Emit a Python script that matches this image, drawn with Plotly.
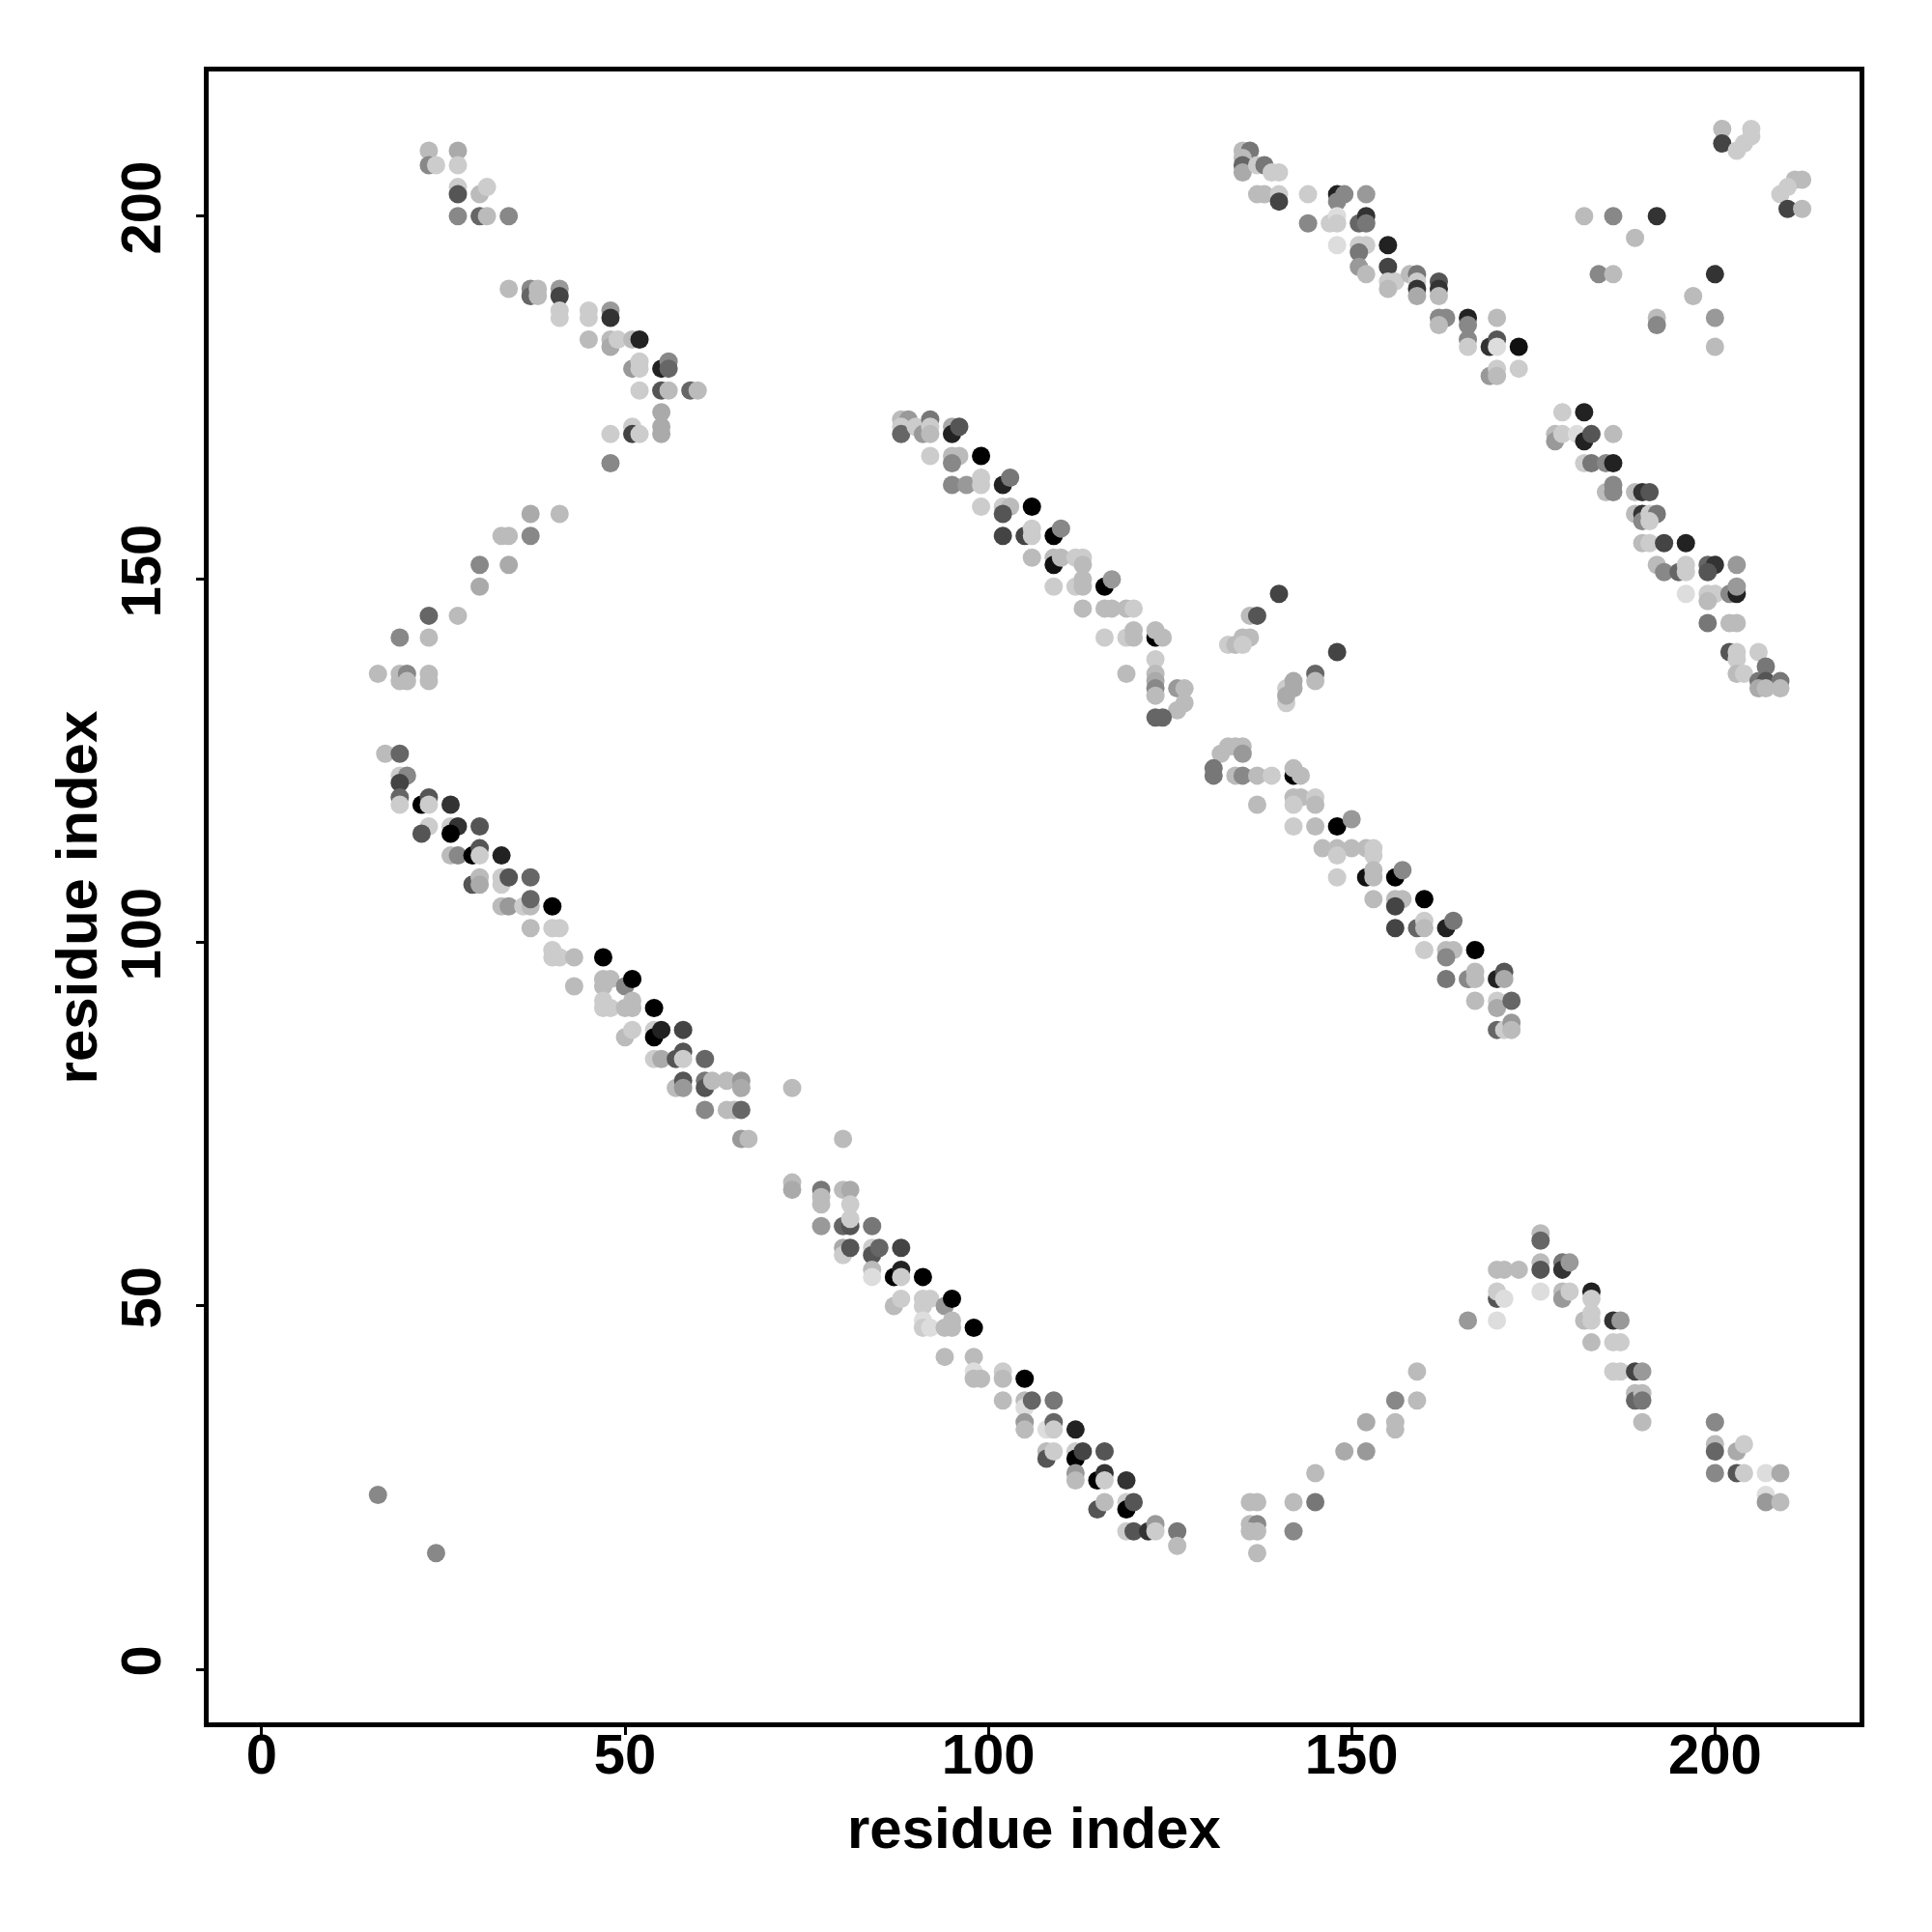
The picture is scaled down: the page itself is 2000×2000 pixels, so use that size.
import plotly.graph_objects as go

# (residue i, residue j, gray shade 0=black .. 255=white)
top_left_band = [
    (23,209,187),(27,209,170),(23,207,136),(24,207,204),(27,207,204),
    (27,204,204),(27,203,85),(30,203,187),(31,204,204),
    (27,200,136),(30,200,102),(31,200,187),(34,200,136),
    (34,190,187),(37,190,136),(37,189,102),(38,190,187),(38,189,187),(41,190,153),(41,189,68),
    (41,187,204),(41,186,204),(45,187,204),(45,186,204),(48,187,153),(48,186,51),
    (45,183,187),(48,183,187),(48,182,170),(49,183,204),(51,183,187),(52,183,34),
    (51,179,153),(52,180,204),(52,179,204),(55,179,34),(56,180,136),(56,179,102),
    (52,176,204),(55,176,85),(56,176,187),(59,176,102),(60,176,187),
    (55,173,170),(55,171,170),(55,170,170),(48,170,204),(51,171,204),(51,170,68),(52,170,204),
    (48,166,136),(37,159,170),(41,159,187),(33,156,187),(34,156,187),(37,156,136),
    (30,152,136),(34,152,170),(30,149,170),(23,145,102),(27,145,187),
    (19,142,136),(23,142,187),
    (16,137,187),(19,137,187),(19,136,187),(20,137,136),(20,136,187),(23,137,187),(23,136,187),
]

lower_left_band = [
    (17,126,187),(19,126,102),
    (19,123,204),(20,123,136),(19,122,68),(19,120,102),(19,119,204),
    (22,119,0),(23,120,85),(23,119,204),(26,119,51),
    (23,116,204),(22,115,85),(26,116,204),(27,116,51),(26,115,0),(30,116,85),
    (26,112,187),(27,112,136),(29,112,0),(30,113,85),(30,112,204),(33,112,34),
    (29,108,85),(30,109,187),(30,108,170),(33,109,204),(33,108,204),(34,109,85),(37,109,102),
    (33,105,187),(34,105,153),(36,105,204),(37,105,187),(37,106,102),(40,105,0),
    (37,102,187),(40,102,204),(41,102,204),
    (40,99,204),(40,98,204),(41,98,204),(43,98,187),(47,98,0),
    (43,94,187),(47,95,187),(47,94,187),(48,95,187),(50,94,136),(51,95,0),
    (47,92,204),(47,91,204),(48,91,204),(50,91,187),(51,91,187),(51,92,187),(54,91,0),
    (50,87,187),(51,88,204),(54,88,204),(54,87,0),(55,88,34),(58,88,68),
    (54,84,204),(55,84,170),(57,84,85),(58,85,85),(58,84,204),(61,84,102),
    (57,80,187),(58,81,85),(58,80,153),(61,81,119),(61,80,85),(62,81,187),(64,81,187),(66,81,153),(66,80,170),
    (61,77,136),(64,77,187),(65,77,187),(66,77,102),
    (66,73,153),(67,73,187),(73,80,187),(80,73,187),
]

lower_mid_band = [
    (73,67,187),(73,66,170),
    (77,66,119),(77,65,187),(77,64,187),(80,66,187),(81,66,170),(81,64,204),
    (77,61,153),(80,61,102),(81,61,85),(81,62,204),(84,61,119),
    (80,58,170),(80,57,204),(81,58,85),(84,58,204),(84,57,85),(85,58,102),(88,58,68),
    (84,55,187),(84,54,221),(87,54,0),(88,55,34),(88,54,204),(91,54,0),
    (87,50,187),(88,51,204),(91,51,204),(91,50,204),(92,51,204),(94,50,153),(95,51,0),
    (91,48,221),(91,47,204),(92,47,221),(94,47,187),(95,48,187),(95,47,187),(98,47,0),
    (94,43,187),(98,43,187),(98,41,221),(98,40,187),(99,40,187),(102,41,204),(102,40,187),(105,40,0),
    (102,37,187),(105,37,187),(105,36,221),(106,37,102),(109,37,119),
    (105,34,153),(105,33,187),(108,33,221),(109,34,102),(109,33,204),(112,33,34),
    (108,30,187),(108,29,85),(109,30,204),(112,30,204),(112,29,0),(113,30,68),(116,30,85),
    (112,27,153),(112,26,187),(115,26,0),(116,27,51),(116,26,204),(119,26,51),
    (115,22,85),(116,23,187),(119,23,204),(119,22,0),(120,23,85),
    (119,19,204),(120,19,85),(122,19,51),(123,20,153),(123,19,204),(126,19,119),(126,17,187),
]

lower_right_arc = [
    (136,23,187),(137,23,187),(136,20,187),(137,20,136),(136,19,187),(137,19,187),(137,16,187),
    (142,23,187),(142,19,136),(145,27,187),(145,23,119),
    (149,30,170),(152,30,153),(152,34,170),(156,34,187),(156,33,187),(156,37,136),(159,37,187),(159,41,187),
    (166,48,153),(170,48,221),(170,51,85),(170,52,204),(171,51,221),
    (170,55,187),(171,55,187),(173,55,187),
    (176,60,187),(176,59,102),(176,56,187),(176,55,85),(176,52,221),
    (179,56,119),(179,55,51),(180,56,153),(179,52,187),(179,51,153),(180,52,204),
    (183,52,34),(183,51,204),(182,48,187),(183,49,204),(183,48,204),(186,48,51),(187,48,153),
    (183,45,187),(186,45,204),(187,45,204),
    (186,41,204),(187,41,204),(189,41,68),(190,41,153),(189,38,187),(189,37,102),(190,38,187),(190,37,119),(190,34,187),
    (200,34,136),(200,31,187),(200,30,102),(203,30,170),(204,31,204),(200,27,136),(203,27,85),(204,27,204),
    (207,27,221),(209,27,170),(207,24,221),(207,23,153),(209,23,187),
    (16,24,136),(24,16,136),
]

middle_band = [
    (88,172,187),(89,172,153),(88,171,204),(88,170,102),(90,171,204),(91,170,153),(92,172,119),(92,171,204),
    (92,170,187),(95,171,170),(95,170,34),(96,171,85),
    (92,167,204),(95,167,187),(96,167,187),(95,166,136),(99,167,0),
    (95,163,136),(97,163,153),(99,164,204),(99,163,204),(102,163,34),(103,164,119),
    (99,160,204),(102,160,204),(103,160,187),(102,159,85),(106,160,0),
    (102,156,68),(105,156,68),(106,157,204),(106,156,204),(109,156,0),(110,157,136),
    (106,153,187),(109,153,187),(109,152,17),(110,153,187),(112,153,204),(113,153,204),(113,152,187),
    (109,149,204),(112,149,204),(113,150,187),(113,149,187),(116,149,0),(117,150,153),
    (113,146,187),(116,146,187),(117,146,187),(119,146,187),(120,146,204),
    (123,142,0),(116,142,204),(119,142,204),(120,143,187),(120,142,187),(123,143,187),(124,142,187),
    (119,137,187),(123,139,204),(123,137,187),(123,136,170),(123,135,136),(123,134,187),
    (126,135,153),(127,135,187),(127,133,187),(126,132,187),(123,131,102),(124,131,102),
]

middle_right_band = [
    (140,148,68),(136,145,187),(137,145,85),
    (133,141,204),(134,141,187),(135,142,187),(136,142,187),(135,141,204),
    (141,135,204),(141,133,204),(142,136,170),(142,135,170),(141,134,170),
    (148,140,68),(145,137,102),(145,136,187),
    (132,126,187),(133,127,187),(134,127,187),(135,127,187),(135,126,153),
    (142,123,0),(131,124,119),(131,123,119),(134,123,187),(135,123,136),(137,123,187),(139,123,204),
    (142,124,187),(143,123,187),
    (137,119,187),(142,120,187),(143,120,187),(142,119,204),(142,116,204),
    (145,120,204),(145,119,187),(145,116,187),(148,116,0),(150,117,153),
    (146,113,187),(148,113,187),(150,113,187),(152,113,187),(153,113,204),(148,112,204),(153,112,204),
    (148,109,204),(152,109,17),(153,110,187),(153,109,187),(156,109,0),(157,110,136),
    (153,106,187),(156,106,187),(157,106,187),(156,105,68),(160,106,0),
    (156,102,68),(159,102,102),(160,103,204),(160,102,187),(163,102,34),(164,103,119),
    (160,99,204),(163,99,187),(164,99,187),(163,98,136),(167,99,0),
    (163,95,119),(166,95,136),(167,96,187),(167,95,187),(170,95,34),(171,96,85),(171,95,170),
    (167,92,187),(170,92,204),(170,91,170),(172,92,102),
    (170,88,102),(171,88,204),(172,89,153),(172,88,187),
]

top_middle_band = [
    (135,209,187),(136,209,119),(135,208,187),(135,207,102),(135,206,170),(137,207,204),(138,207,119),
    (139,206,204),(140,206,204),
    (137,203,187),(138,203,187),(140,203,204),(140,202,68),(144,203,204),(144,199,136),
    (148,203,34),(149,203,136),(152,203,153),(148,202,136),
    (147,199,204),(148,200,221),(148,199,204),(151,199,102),(152,200,51),(152,199,119),
    (148,196,221),(151,196,204),(152,196,204),(155,196,34),(151,195,119),
    (151,193,153),(152,192,187),(155,193,68),(155,191,204),(156,191,204),(155,190,187),(158,192,187),
    (159,192,119),(159,191,204),(159,190,51),(159,189,170),(162,191,85),(162,190,51),(162,189,187),
    (162,186,136),(163,186,136),(162,185,187),(166,186,34),(166,185,136),(170,186,187),
    (166,183,136),(166,182,204),(169,182,51),(170,183,85),(170,182,221),(173,182,17),
    (169,178,153),(170,179,204),(170,178,187),(173,179,204),
]

top_right_scatter = [
    (201,212,187),(201,210,68),(203,209,204),(204,210,204),(205,212,204),(205,211,204),
    (211,205,187),(212,205,187),(209,203,204),(210,204,204),(210,201,68),(212,201,187),
    (182,200,187),(186,200,136),(192,200,51),(189,197,187),
    (184,192,136),(186,192,187),(200,192,51),(197,189,187),(192,186,187),(192,185,136),
    (200,186,153),(200,182,187),
]

right_band = [
    (179,173,204),(182,173,34),(178,170,187),(178,169,153),(179,170,204),(181,170,221),(182,169,34),
    (183,170,85),(186,170,187),
    (182,166,204),(183,166,119),(185,166,136),(186,166,34),
    (185,162,187),(186,163,136),(186,162,136),(189,162,187),(190,162,51),(191,162,85),
    (189,159,187),(190,159,51),(190,158,136),(191,159,204),(192,159,119),(191,158,204),
    (190,155,187),(191,155,204),(193,155,68),(196,155,34),
    (192,152,187),(193,151,136),(195,151,102),(196,152,204),(196,151,204),(199,152,102),(200,152,51),
    (199,151,85),(203,152,153),
    (196,148,221),(199,148,204),(200,148,204),(202,148,136),(203,148,34),(203,149,153),(199,147,187),
    (199,144,119),(202,144,187),(203,144,187),
    (202,140,85),(203,140,204),(203,139,204),(206,140,204),(203,137,187),(204,137,204),(207,138,119),
    (206,136,119),(207,136,85),(209,136,119),(209,135,187),(206,135,170),(207,135,187),
]

groups = [top_left_band, lower_left_band, lower_mid_band, lower_right_arc, middle_band,
          middle_right_band, top_middle_band, top_right_scatter, right_band]

res_i, res_j, shade = [], [], []
for g in groups:
    for a, b, s in g:
        res_i.append(a)
        res_j.append(b)
        shade.append(s)

tick_vals = [0, 50, 100, 150, 200]
axis_label = "residue index"

fig = go.Figure(go.Scatter(
    x=res_i, y=res_j, mode="markers",
    marker=dict(size=19, color=shade, cmin=0, cmax=255,
                colorscale=[[0, "rgb(0,0,0)"], [1, "rgb(255,255,255)"]],
                line=dict(width=0)),
    showlegend=False, hoverinfo="x+y",
))

font_tick = dict(family="Liberation Sans, Arial, sans-serif", size=58, color="black", weight="bold")
axis_common = dict(
    showgrid=False, zeroline=False, showline=True, linecolor="black", linewidth=5, mirror=True,
    ticks="outside", ticklen=8, tickwidth=3, tickcolor="black",
    tickvals=tick_vals, tickfont=font_tick,
)
fig.update_xaxes(range=[-7.3, 219.9], ticklabelstandoff=-30, **axis_common)
fig.update_yaxes(range=[-7.3, 219.9], tickangle=-90, ticklabelstandoff=14, **axis_common)

title_font = dict(family="Liberation Sans, Arial, sans-serif", size=60, color="black", weight="bold")
fig.update_layout(
    width=2000, height=2000,
    margin=dict(l=208, r=83, t=66, b=225),
    paper_bgcolor="white", plot_bgcolor="white",
    annotations=[
        dict(text=axis_label, xref="paper", yref="paper", x=0.5, y=-0.0638,
             xanchor="center", yanchor="middle", showarrow=False, font=title_font),
        dict(text=axis_label, xref="paper", yref="paper", x=-0.0796, y=0.5, textangle=-90,
             xanchor="center", yanchor="middle", showarrow=False, font=title_font),
    ],
)

fig.write_html("out.html")
